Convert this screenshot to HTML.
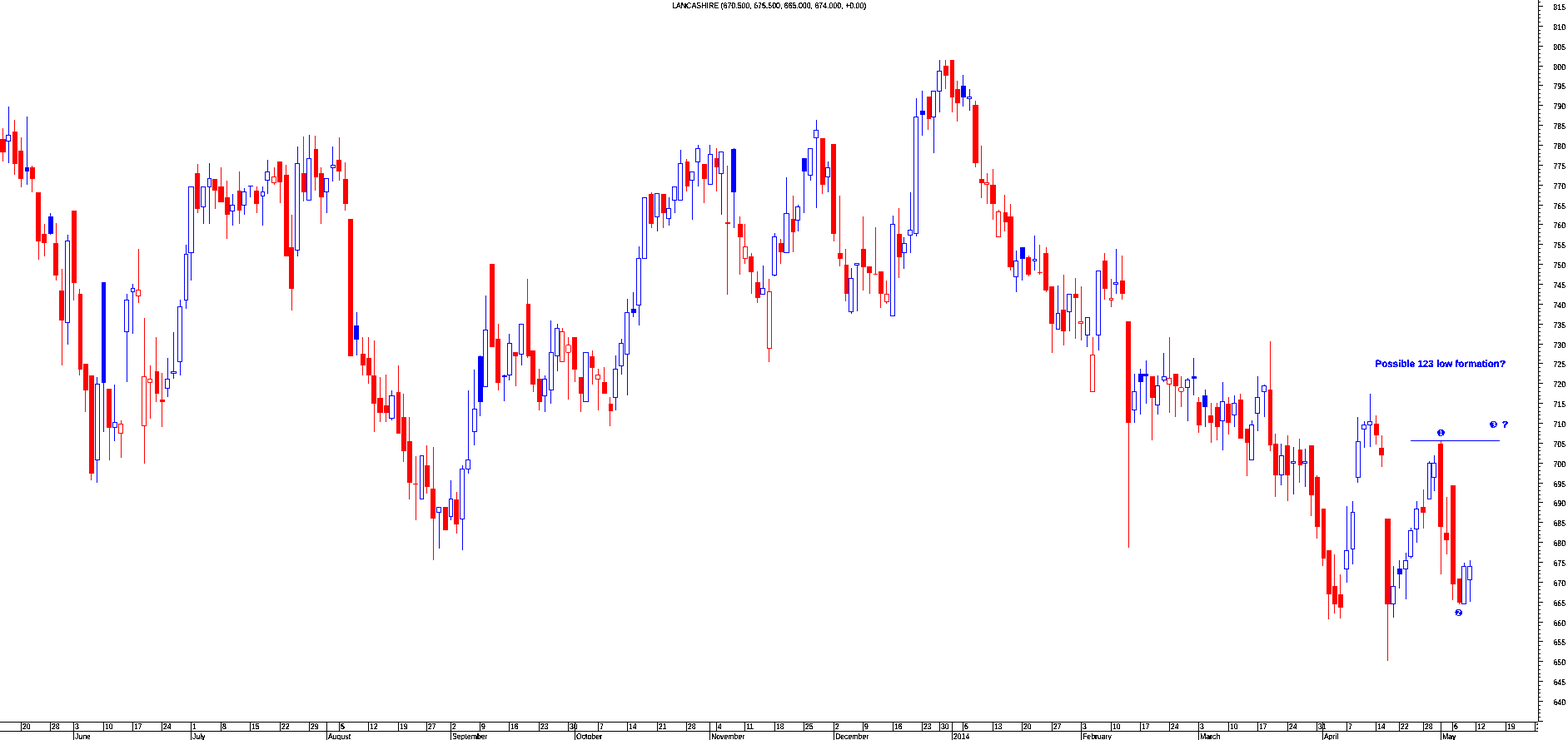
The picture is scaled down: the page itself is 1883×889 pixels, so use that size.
<!DOCTYPE html>
<html><head><meta charset="utf-8"><title>LANCASHIRE</title>
<style>
html,body{margin:0;padding:0;background:#fff;overflow:hidden}
svg{display:block;font-family:"Liberation Sans",sans-serif}
</style></head><body>
<svg width="1883" height="889" viewBox="0 0 1883 889" shape-rendering="crispEdges" text-rendering="geometricPrecision">
<rect x="0" y="0" width="1883" height="889" fill="#ffffff"/>
<defs><filter id="crisp" x="-5%" y="-20%" width="110%" height="140%" color-interpolation-filters="sRGB"><feComponentTransfer><feFuncA type="discrete" tableValues="0 1 1"/></feComponentTransfer></filter><filter id="crispb" x="-5%" y="-20%" width="110%" height="140%" color-interpolation-filters="sRGB"><feComponentTransfer><feFuncA type="discrete" tableValues="0 1 1 1"/></feComponentTransfer></filter><filter id="crisp2" x="-5%" y="-20%" width="110%" height="140%" color-interpolation-filters="sRGB"><feComponentTransfer><feFuncA type="discrete" tableValues="0 0 1 1"/></feComponentTransfer></filter></defs>
<g id="candles"><g fill="#ff0000"><rect x="3" y="154" width="1" height="13"/><rect x="0" y="167" width="7" height="16"/><rect x="3" y="183" width="1" height="11"/></g>
<g fill="#0000ff"><rect x="10" y="128" width="1" height="34"/><rect x="7" y="162" width="6" height="1"/><rect x="7" y="169" width="6" height="1"/><rect x="7" y="162" width="1" height="8"/><rect x="12" y="162" width="1" height="8"/><rect x="10" y="170" width="1" height="26"/></g>
<g fill="#ff0000"><rect x="17" y="144" width="1" height="14"/><rect x="15" y="158" width="6" height="39"/><rect x="17" y="197" width="1" height="13"/></g>
<g fill="#ff0000"><rect x="25" y="165" width="1" height="16"/><rect x="22" y="181" width="6" height="34"/><rect x="25" y="215" width="1" height="10"/></g>
<g fill="#0000ff"><rect x="32" y="140" width="1" height="61"/><rect x="30" y="201" width="5" height="5"/><rect x="32" y="206" width="1" height="16"/></g>
<g fill="#ff0000"><rect x="38" y="199" width="1" height="2"/><rect x="36" y="201" width="6" height="14"/><rect x="38" y="215" width="1" height="16"/></g>
<g fill="#ff0000"><rect x="43" y="231" width="6" height="59"/><rect x="46" y="290" width="1" height="22"/></g>
<g fill="#ff0000"><rect x="53" y="269" width="1" height="12"/><rect x="50" y="281" width="6" height="11"/><rect x="53" y="292" width="1" height="16"/></g>
<g fill="#0000ff"><rect x="60" y="256" width="1" height="4"/><rect x="58" y="260" width="6" height="21"/><rect x="60" y="281" width="1" height="1"/></g>
<g fill="#ff0000"><rect x="67" y="268" width="1" height="24"/><rect x="64" y="292" width="6" height="39"/><rect x="67" y="331" width="1" height="6"/></g>
<g fill="#ff0000"><rect x="74" y="323" width="1" height="26"/><rect x="71" y="349" width="6" height="36"/><rect x="74" y="385" width="1" height="54"/></g>
<g fill="#0000ff"><rect x="81" y="282" width="1" height="7"/><rect x="78" y="289" width="6" height="1"/><rect x="78" y="387" width="6" height="1"/><rect x="78" y="289" width="1" height="99"/><rect x="83" y="289" width="1" height="99"/><rect x="81" y="388" width="1" height="26"/></g>
<g fill="#ff0000"><rect x="86" y="253" width="6" height="87"/><rect x="88" y="340" width="1" height="21"/></g>
<g fill="#ff0000"><rect x="95" y="347" width="1" height="6"/><rect x="94" y="353" width="5" height="91"/><rect x="95" y="444" width="1" height="7"/></g>
<g fill="#ff0000"><rect x="100" y="437" width="6" height="32"/><rect x="102" y="469" width="1" height="26"/></g>
<g fill="#ff0000"><rect x="107" y="451" width="6" height="118"/><rect x="109" y="569" width="1" height="8"/></g>
<g fill="#0000ff"><rect x="116" y="453" width="1" height="8"/><rect x="114" y="461" width="6" height="1"/><rect x="114" y="552" width="6" height="1"/><rect x="114" y="461" width="1" height="92"/><rect x="119" y="461" width="1" height="92"/><rect x="116" y="553" width="1" height="27"/></g>
<g fill="#0000ff"><rect x="122" y="339" width="5" height="121"/><rect x="124" y="460" width="1" height="59"/></g>
<g fill="#ff0000"><rect x="128" y="467" width="6" height="47"/><rect x="131" y="514" width="1" height="39"/></g>
<g fill="#0000ff"><rect x="137" y="462" width="1" height="45"/><rect x="135" y="507" width="6" height="1"/><rect x="135" y="513" width="6" height="1"/><rect x="135" y="507" width="1" height="7"/><rect x="140" y="507" width="1" height="7"/><rect x="137" y="514" width="1" height="16"/></g>
<g fill="#ff0000"><rect x="145" y="505" width="1" height="4"/><rect x="142" y="509" width="6" height="1"/><rect x="142" y="520" width="6" height="1"/><rect x="142" y="509" width="1" height="12"/><rect x="147" y="509" width="1" height="12"/><rect x="145" y="521" width="1" height="29"/></g>
<g fill="#0000ff"><rect x="152" y="353" width="1" height="7"/><rect x="149" y="360" width="6" height="1"/><rect x="149" y="398" width="6" height="1"/><rect x="149" y="360" width="1" height="39"/><rect x="154" y="360" width="1" height="39"/><rect x="152" y="399" width="1" height="60"/></g>
<g fill="#0000ff"><rect x="159" y="341" width="1" height="5"/><rect x="157" y="346" width="5" height="1"/><rect x="157" y="350" width="5" height="1"/><rect x="157" y="346" width="1" height="5"/><rect x="161" y="346" width="1" height="5"/><rect x="159" y="351" width="1" height="50"/></g>
<g fill="#ff0000"><rect x="166" y="299" width="1" height="49"/><rect x="163" y="348" width="6" height="1"/><rect x="163" y="355" width="6" height="1"/><rect x="163" y="348" width="1" height="8"/><rect x="168" y="348" width="1" height="8"/><rect x="166" y="356" width="1" height="8"/></g>
<g fill="#ff0000"><rect x="173" y="382" width="1" height="70"/><rect x="170" y="452" width="6" height="1"/><rect x="170" y="511" width="6" height="1"/><rect x="170" y="452" width="1" height="60"/><rect x="175" y="452" width="1" height="60"/><rect x="173" y="512" width="1" height="45"/></g>
<g fill="#ff0000"><rect x="180" y="439" width="1" height="16"/><rect x="177" y="455" width="6" height="1"/><rect x="177" y="459" width="6" height="1"/><rect x="177" y="455" width="1" height="5"/><rect x="182" y="455" width="1" height="5"/><rect x="180" y="460" width="1" height="43"/></g>
<g fill="#ff0000"><rect x="187" y="405" width="1" height="41"/><rect x="186" y="446" width="5" height="27"/><rect x="187" y="473" width="1" height="10"/></g>
<g fill="#ff0000"><rect x="194" y="448" width="1" height="32"/><rect x="192" y="480" width="6" height="3"/><rect x="194" y="483" width="1" height="30"/></g>
<g fill="#0000ff"><rect x="201" y="430" width="1" height="25"/><rect x="198" y="455" width="6" height="1"/><rect x="198" y="466" width="6" height="1"/><rect x="198" y="455" width="1" height="12"/><rect x="203" y="455" width="1" height="12"/><rect x="201" y="467" width="1" height="10"/></g>
<g fill="#0000ff"><rect x="208" y="399" width="1" height="47"/><rect x="205" y="446" width="7" height="1"/><rect x="205" y="448" width="7" height="1"/><rect x="205" y="446" width="1" height="3"/><rect x="211" y="446" width="1" height="3"/><rect x="208" y="449" width="1" height="6"/></g>
<g fill="#0000ff"><rect x="216" y="360" width="1" height="8"/><rect x="213" y="368" width="6" height="1"/><rect x="213" y="434" width="6" height="1"/><rect x="213" y="368" width="1" height="67"/><rect x="218" y="368" width="1" height="67"/><rect x="216" y="435" width="1" height="16"/></g>
<g fill="#0000ff"><rect x="223" y="294" width="1" height="11"/><rect x="221" y="305" width="5" height="1"/><rect x="221" y="360" width="5" height="1"/><rect x="221" y="305" width="1" height="56"/><rect x="225" y="305" width="1" height="56"/><rect x="223" y="361" width="1" height="10"/></g>
<g fill="#0000ff"><rect x="226" y="224" width="7" height="1"/><rect x="226" y="303" width="7" height="1"/><rect x="226" y="224" width="1" height="80"/><rect x="232" y="224" width="1" height="80"/><rect x="229" y="304" width="1" height="33"/></g>
<g fill="#ff0000"><rect x="237" y="197" width="1" height="11"/><rect x="234" y="208" width="6" height="43"/><rect x="237" y="251" width="1" height="5"/></g>
<g fill="#0000ff"><rect x="241" y="224" width="6" height="1"/><rect x="241" y="248" width="6" height="1"/><rect x="241" y="224" width="1" height="25"/><rect x="246" y="224" width="1" height="25"/><rect x="244" y="249" width="1" height="20"/></g>
<g fill="#0000ff"><rect x="251" y="196" width="1" height="18"/><rect x="249" y="214" width="5" height="1"/><rect x="249" y="224" width="5" height="1"/><rect x="249" y="214" width="1" height="11"/><rect x="253" y="214" width="1" height="11"/><rect x="251" y="225" width="1" height="44"/></g>
<g fill="#ff0000"><rect x="255" y="215" width="6" height="14"/><rect x="258" y="229" width="1" height="22"/></g>
<g fill="#ff0000"><rect x="265" y="201" width="1" height="23"/><rect x="262" y="224" width="7" height="19"/></g>
<g fill="#ff0000"><rect x="272" y="217" width="1" height="20"/><rect x="270" y="237" width="6" height="21"/><rect x="272" y="258" width="1" height="29"/></g>
<g fill="#0000ff"><rect x="279" y="233" width="1" height="13"/><rect x="276" y="246" width="6" height="1"/><rect x="276" y="253" width="6" height="1"/><rect x="276" y="246" width="1" height="8"/><rect x="281" y="246" width="1" height="8"/><rect x="279" y="254" width="1" height="17"/></g>
<g fill="#ff0000"><rect x="287" y="206" width="1" height="23"/><rect x="285" y="229" width="5" height="24"/><rect x="287" y="253" width="1" height="16"/></g>
<g fill="#0000ff"><rect x="293" y="226" width="1" height="4"/><rect x="290" y="230" width="6" height="1"/><rect x="290" y="246" width="6" height="1"/><rect x="290" y="230" width="1" height="17"/><rect x="295" y="230" width="1" height="17"/><rect x="293" y="247" width="1" height="11"/></g>
<g fill="#0000ff"><rect x="300" y="223" width="1" height="14"/><rect x="298" y="223" width="6" height="1"/></g>
<g fill="#ff0000"><rect x="308" y="224" width="1" height="5"/><rect x="305" y="229" width="6" height="16"/><rect x="308" y="245" width="1" height="11"/></g>
<g fill="#0000ff"><rect x="315" y="224" width="1" height="6"/><rect x="313" y="230" width="5" height="1"/><rect x="313" y="235" width="5" height="1"/><rect x="313" y="230" width="1" height="6"/><rect x="317" y="230" width="1" height="6"/><rect x="315" y="236" width="1" height="35"/></g>
<g fill="#0000ff"><rect x="321" y="192" width="1" height="14"/><rect x="318" y="206" width="6" height="1"/><rect x="318" y="216" width="6" height="1"/><rect x="318" y="206" width="1" height="11"/><rect x="323" y="206" width="1" height="11"/><rect x="321" y="217" width="1" height="16"/></g>
<g fill="#ff0000"><rect x="329" y="201" width="1" height="11"/><rect x="326" y="212" width="6" height="1"/><rect x="326" y="219" width="6" height="1"/><rect x="326" y="212" width="1" height="8"/><rect x="331" y="212" width="1" height="8"/><rect x="329" y="220" width="1" height="2"/></g>
<g fill="#ff0000"><rect x="333" y="194" width="6" height="25"/><rect x="336" y="219" width="1" height="25"/></g>
<g fill="#ff0000"><rect x="343" y="198" width="1" height="12"/><rect x="341" y="210" width="6" height="98"/></g>
<g fill="#ff0000"><rect x="350" y="258" width="1" height="39"/><rect x="347" y="297" width="6" height="50"/><rect x="350" y="347" width="1" height="26"/></g>
<g fill="#0000ff"><rect x="357" y="176" width="1" height="20"/><rect x="354" y="196" width="6" height="1"/><rect x="354" y="300" width="6" height="1"/><rect x="354" y="196" width="1" height="105"/><rect x="359" y="196" width="1" height="105"/><rect x="357" y="301" width="1" height="7"/></g>
<g fill="#ff0000"><rect x="364" y="164" width="1" height="44"/><rect x="362" y="208" width="6" height="23"/><rect x="364" y="231" width="1" height="11"/></g>
<g fill="#0000ff"><rect x="371" y="162" width="1" height="28"/><rect x="368" y="190" width="6" height="1"/><rect x="368" y="240" width="6" height="1"/><rect x="368" y="190" width="1" height="51"/><rect x="373" y="190" width="1" height="51"/></g>
<g fill="#ff0000"><rect x="378" y="163" width="1" height="16"/><rect x="377" y="179" width="5" height="34"/><rect x="378" y="213" width="1" height="16"/></g>
<g fill="#ff0000"><rect x="385" y="201" width="1" height="7"/><rect x="383" y="208" width="6" height="29"/><rect x="385" y="237" width="1" height="32"/></g>
<g fill="#0000ff"><rect x="389" y="214" width="6" height="1"/><rect x="389" y="230" width="6" height="1"/><rect x="389" y="214" width="1" height="17"/><rect x="394" y="214" width="1" height="17"/><rect x="392" y="231" width="1" height="25"/></g>
<g fill="#0000ff"><rect x="399" y="176" width="1" height="22"/><rect x="397" y="198" width="6" height="1"/><rect x="397" y="201" width="6" height="1"/><rect x="397" y="198" width="1" height="4"/><rect x="402" y="198" width="1" height="4"/><rect x="399" y="202" width="1" height="16"/></g>
<g fill="#ff0000"><rect x="407" y="165" width="1" height="27"/><rect x="404" y="192" width="6" height="14"/><rect x="407" y="206" width="1" height="11"/></g>
<g fill="#ff0000"><rect x="414" y="195" width="1" height="20"/><rect x="412" y="215" width="6" height="30"/><rect x="414" y="245" width="1" height="8"/></g>
<g fill="#ff0000"><rect x="418" y="263" width="6" height="165"/></g>
<g fill="#0000ff"><rect x="428" y="375" width="1" height="16"/><rect x="425" y="391" width="6" height="17"/><rect x="428" y="408" width="1" height="19"/></g>
<g fill="#ff0000"><rect x="435" y="405" width="1" height="20"/><rect x="433" y="425" width="6" height="14"/><rect x="435" y="439" width="1" height="12"/></g>
<g fill="#ff0000"><rect x="442" y="405" width="1" height="25"/><rect x="440" y="430" width="6" height="21"/><rect x="442" y="451" width="1" height="10"/></g>
<g fill="#ff0000"><rect x="449" y="409" width="1" height="42"/><rect x="446" y="451" width="6" height="34"/><rect x="449" y="485" width="1" height="34"/></g>
<g fill="#ff0000"><rect x="456" y="453" width="1" height="25"/><rect x="453" y="478" width="7" height="18"/><rect x="456" y="496" width="1" height="11"/></g>
<g fill="#ff0000"><rect x="463" y="450" width="1" height="37"/><rect x="461" y="487" width="6" height="9"/><rect x="463" y="496" width="1" height="11"/></g>
<g fill="#0000ff"><rect x="470" y="469" width="1" height="6"/><rect x="467" y="475" width="7" height="1"/><rect x="467" y="502" width="7" height="1"/><rect x="467" y="475" width="1" height="28"/><rect x="473" y="475" width="1" height="28"/><rect x="470" y="503" width="1" height="2"/></g>
<g fill="#ff0000"><rect x="478" y="439" width="1" height="32"/><rect x="476" y="471" width="5" height="50"/></g>
<g fill="#ff0000"><rect x="484" y="473" width="1" height="28"/><rect x="482" y="501" width="6" height="41"/><rect x="484" y="542" width="1" height="13"/></g>
<g fill="#ff0000"><rect x="491" y="501" width="1" height="29"/><rect x="489" y="530" width="6" height="50"/><rect x="491" y="580" width="1" height="20"/></g>
<g fill="#ff0000"><rect x="499" y="548" width="1" height="77"/><rect x="496" y="581" width="6" height="1"/></g>
<g fill="#0000ff"><rect x="504" y="547" width="5" height="1"/><rect x="504" y="599" width="5" height="1"/><rect x="504" y="547" width="1" height="53"/><rect x="508" y="547" width="1" height="53"/></g>
<g fill="#ff0000"><rect x="512" y="535" width="1" height="24"/><rect x="510" y="559" width="6" height="26"/><rect x="512" y="585" width="1" height="8"/></g>
<g fill="#ff0000"><rect x="520" y="537" width="1" height="50"/><rect x="517" y="587" width="6" height="36"/><rect x="520" y="623" width="1" height="50"/></g>
<g fill="#0000ff"><rect x="524" y="609" width="6" height="1"/><rect x="524" y="615" width="6" height="1"/><rect x="524" y="609" width="1" height="7"/><rect x="529" y="609" width="1" height="7"/><rect x="527" y="616" width="1" height="43"/></g>
<g fill="#ff0000"><rect x="532" y="609" width="6" height="28"/></g>
<g fill="#0000ff"><rect x="541" y="577" width="1" height="22"/><rect x="539" y="599" width="5" height="1"/><rect x="539" y="620" width="5" height="1"/><rect x="539" y="599" width="1" height="22"/><rect x="543" y="599" width="1" height="22"/><rect x="541" y="621" width="1" height="4"/></g>
<g fill="#ff0000"><rect x="548" y="591" width="1" height="9"/><rect x="545" y="600" width="6" height="30"/><rect x="548" y="630" width="1" height="11"/></g>
<g fill="#0000ff"><rect x="555" y="559" width="1" height="4"/><rect x="552" y="563" width="6" height="1"/><rect x="552" y="623" width="6" height="1"/><rect x="552" y="563" width="1" height="61"/><rect x="557" y="563" width="1" height="61"/><rect x="555" y="624" width="1" height="37"/></g>
<g fill="#0000ff"><rect x="562" y="469" width="1" height="83"/><rect x="559" y="552" width="6" height="1"/><rect x="559" y="563" width="6" height="1"/><rect x="559" y="552" width="1" height="12"/><rect x="564" y="552" width="1" height="12"/><rect x="562" y="564" width="1" height="5"/></g>
<g fill="#0000ff"><rect x="569" y="444" width="1" height="47"/><rect x="567" y="491" width="6" height="1"/><rect x="567" y="518" width="6" height="1"/><rect x="567" y="491" width="1" height="28"/><rect x="572" y="491" width="1" height="28"/><rect x="569" y="519" width="1" height="16"/></g>
<g fill="#0000ff"><rect x="576" y="427" width="1" height="1"/><rect x="574" y="428" width="6" height="55"/><rect x="576" y="483" width="1" height="17"/></g>
<g fill="#0000ff"><rect x="583" y="355" width="1" height="41"/><rect x="580" y="396" width="6" height="1"/><rect x="580" y="464" width="6" height="1"/><rect x="580" y="396" width="1" height="69"/><rect x="585" y="396" width="1" height="69"/></g>
<g fill="#ff0000"><rect x="588" y="317" width="6" height="100"/></g>
<g fill="#ff0000"><rect x="598" y="389" width="1" height="18"/><rect x="595" y="407" width="6" height="53"/><rect x="598" y="460" width="1" height="9"/></g>
<g fill="#0000ff"><rect x="605" y="450" width="1" height="1"/><rect x="603" y="451" width="6" height="2"/><rect x="605" y="453" width="1" height="29"/></g>
<g fill="#0000ff"><rect x="611" y="401" width="1" height="11"/><rect x="609" y="412" width="6" height="1"/><rect x="609" y="450" width="6" height="1"/><rect x="609" y="412" width="1" height="39"/><rect x="614" y="412" width="1" height="39"/><rect x="611" y="451" width="1" height="6"/></g>
<g fill="#ff0000"><rect x="616" y="423" width="6" height="5"/><rect x="619" y="428" width="1" height="36"/></g>
<g fill="#0000ff"><rect x="623" y="389" width="6" height="1"/><rect x="623" y="425" width="6" height="1"/><rect x="623" y="389" width="1" height="37"/><rect x="628" y="389" width="1" height="37"/><rect x="626" y="426" width="1" height="13"/></g>
<g fill="#ff0000"><rect x="633" y="335" width="1" height="30"/><rect x="632" y="365" width="5" height="63"/><rect x="633" y="428" width="1" height="2"/></g>
<g fill="#ff0000"><rect x="637" y="421" width="6" height="41"/><rect x="640" y="462" width="1" height="9"/></g>
<g fill="#ff0000"><rect x="647" y="443" width="1" height="12"/><rect x="645" y="455" width="6" height="28"/><rect x="647" y="483" width="1" height="10"/></g>
<g fill="#0000ff"><rect x="654" y="451" width="1" height="4"/><rect x="651" y="455" width="6" height="1"/><rect x="651" y="475" width="6" height="1"/><rect x="651" y="455" width="1" height="21"/><rect x="656" y="455" width="1" height="21"/><rect x="654" y="476" width="1" height="19"/></g>
<g fill="#0000ff"><rect x="661" y="385" width="1" height="38"/><rect x="659" y="423" width="6" height="1"/><rect x="659" y="468" width="6" height="1"/><rect x="659" y="423" width="1" height="46"/><rect x="664" y="423" width="1" height="46"/><rect x="661" y="469" width="1" height="16"/></g>
<g fill="#0000ff"><rect x="669" y="389" width="1" height="5"/><rect x="666" y="394" width="6" height="1"/><rect x="666" y="427" width="6" height="1"/><rect x="666" y="394" width="1" height="34"/><rect x="671" y="394" width="1" height="34"/><rect x="669" y="428" width="1" height="18"/></g>
<g fill="#ff0000"><rect x="675" y="394" width="1" height="4"/><rect x="672" y="398" width="6" height="1"/><rect x="672" y="434" width="6" height="1"/><rect x="672" y="398" width="1" height="37"/><rect x="677" y="398" width="1" height="37"/></g>
<g fill="#ff0000"><rect x="682" y="405" width="1" height="9"/><rect x="680" y="414" width="5" height="1"/><rect x="680" y="423" width="5" height="1"/><rect x="679" y="415" width="1" height="8"/><rect x="685" y="415" width="1" height="8"/><rect x="682" y="424" width="1" height="56"/></g>
<g fill="#ff0000"><rect x="687" y="405" width="6" height="39"/><rect x="690" y="444" width="1" height="15"/></g>
<g fill="#ff0000"><rect x="695" y="453" width="5" height="20"/><rect x="697" y="473" width="1" height="22"/></g>
<g fill="#0000ff"><rect x="700" y="423" width="7" height="1"/><rect x="700" y="482" width="7" height="1"/><rect x="700" y="423" width="1" height="60"/><rect x="706" y="423" width="1" height="60"/></g>
<g fill="#ff0000"><rect x="711" y="421" width="1" height="7"/><rect x="708" y="428" width="6" height="14"/><rect x="711" y="442" width="1" height="20"/></g>
<g fill="#ff0000"><rect x="718" y="443" width="1" height="7"/><rect x="715" y="450" width="6" height="1"/><rect x="715" y="455" width="6" height="1"/><rect x="715" y="450" width="1" height="6"/><rect x="720" y="450" width="1" height="6"/><rect x="718" y="456" width="1" height="37"/></g>
<g fill="#ff0000"><rect x="725" y="441" width="1" height="18"/><rect x="723" y="459" width="6" height="14"/></g>
<g fill="#ff0000"><rect x="732" y="477" width="1" height="8"/><rect x="731" y="485" width="5" height="9"/><rect x="732" y="494" width="1" height="18"/></g>
<g fill="#0000ff"><rect x="739" y="427" width="1" height="16"/><rect x="736" y="443" width="6" height="1"/><rect x="736" y="477" width="6" height="1"/><rect x="736" y="443" width="1" height="35"/><rect x="741" y="443" width="1" height="35"/><rect x="739" y="478" width="1" height="15"/></g>
<g fill="#0000ff"><rect x="746" y="407" width="1" height="5"/><rect x="743" y="412" width="6" height="1"/><rect x="743" y="439" width="6" height="1"/><rect x="743" y="412" width="1" height="28"/><rect x="748" y="412" width="1" height="28"/><rect x="746" y="440" width="1" height="10"/></g>
<g fill="#0000ff"><rect x="753" y="359" width="1" height="16"/><rect x="750" y="375" width="6" height="1"/><rect x="750" y="425" width="6" height="1"/><rect x="750" y="375" width="1" height="51"/><rect x="755" y="375" width="1" height="51"/><rect x="753" y="426" width="1" height="49"/></g>
<g fill="#0000ff"><rect x="760" y="351" width="1" height="20"/><rect x="758" y="371" width="6" height="5"/><rect x="760" y="376" width="1" height="5"/></g>
<g fill="#0000ff"><rect x="767" y="296" width="1" height="14"/><rect x="764" y="310" width="6" height="1"/><rect x="764" y="366" width="6" height="1"/><rect x="764" y="310" width="1" height="57"/><rect x="769" y="310" width="1" height="57"/><rect x="767" y="367" width="1" height="24"/></g>
<g fill="#0000ff"><rect x="771" y="237" width="6" height="1"/><rect x="771" y="310" width="6" height="1"/><rect x="771" y="237" width="1" height="74"/><rect x="776" y="237" width="1" height="74"/></g>
<g fill="#ff0000"><rect x="782" y="231" width="1" height="2"/><rect x="779" y="233" width="6" height="36"/><rect x="782" y="269" width="1" height="5"/></g>
<g fill="#0000ff"><rect x="786" y="232" width="6" height="1"/><rect x="786" y="260" width="6" height="1"/><rect x="786" y="232" width="1" height="29"/><rect x="791" y="232" width="1" height="29"/><rect x="789" y="261" width="1" height="17"/></g>
<g fill="#ff0000"><rect x="794" y="233" width="6" height="23"/><rect x="796" y="256" width="1" height="18"/></g>
<g fill="#0000ff"><rect x="803" y="237" width="1" height="13"/><rect x="800" y="250" width="6" height="1"/><rect x="800" y="262" width="6" height="1"/><rect x="800" y="250" width="1" height="13"/><rect x="805" y="250" width="1" height="13"/><rect x="803" y="263" width="1" height="8"/></g>
<g fill="#0000ff"><rect x="807" y="224" width="6" height="1"/><rect x="807" y="240" width="6" height="1"/><rect x="807" y="224" width="1" height="17"/><rect x="812" y="224" width="1" height="17"/><rect x="810" y="241" width="1" height="15"/></g>
<g fill="#0000ff"><rect x="817" y="180" width="1" height="16"/><rect x="814" y="196" width="6" height="1"/><rect x="814" y="240" width="6" height="1"/><rect x="814" y="196" width="1" height="45"/><rect x="819" y="196" width="1" height="45"/></g>
<g fill="#ff0000"><rect x="824" y="191" width="1" height="3"/><rect x="823" y="194" width="5" height="30"/><rect x="824" y="224" width="1" height="6"/></g>
<g fill="#0000ff"><rect x="828" y="206" width="6" height="1"/><rect x="828" y="216" width="6" height="1"/><rect x="828" y="206" width="1" height="11"/><rect x="833" y="206" width="1" height="11"/><rect x="831" y="217" width="1" height="47"/></g>
<g fill="#0000ff"><rect x="838" y="174" width="1" height="4"/><rect x="835" y="178" width="6" height="1"/><rect x="835" y="194" width="6" height="1"/><rect x="835" y="178" width="1" height="17"/><rect x="840" y="178" width="1" height="17"/><rect x="838" y="195" width="1" height="29"/></g>
<g fill="#ff0000"><rect x="843" y="197" width="6" height="18"/><rect x="845" y="215" width="1" height="29"/></g>
<g fill="#0000ff"><rect x="852" y="174" width="1" height="11"/><rect x="850" y="185" width="6" height="1"/><rect x="850" y="221" width="6" height="1"/><rect x="850" y="185" width="1" height="37"/><rect x="855" y="185" width="1" height="37"/></g>
<g fill="#ff0000"><rect x="860" y="178" width="1" height="12"/><rect x="858" y="190" width="5" height="11"/><rect x="860" y="201" width="1" height="29"/></g>
<g fill="#0000ff"><rect x="863" y="182" width="6" height="1"/><rect x="863" y="208" width="6" height="1"/><rect x="863" y="182" width="1" height="27"/><rect x="868" y="182" width="1" height="27"/><rect x="866" y="209" width="1" height="49"/></g>
<g fill="#ff0000"><rect x="873" y="199" width="1" height="68"/><rect x="871" y="267" width="6" height="2"/><rect x="873" y="269" width="1" height="85"/></g>
<g fill="#0000ff"><rect x="881" y="178" width="1" height="1"/><rect x="878" y="179" width="6" height="52"/><rect x="881" y="231" width="1" height="43"/></g>
<g fill="#ff0000"><rect x="888" y="260" width="1" height="9"/><rect x="886" y="269" width="6" height="16"/><rect x="888" y="285" width="1" height="45"/></g>
<g fill="#ff0000"><rect x="894" y="269" width="1" height="27"/><rect x="892" y="296" width="6" height="1"/><rect x="892" y="310" width="6" height="1"/><rect x="892" y="296" width="1" height="15"/><rect x="897" y="296" width="1" height="15"/><rect x="894" y="311" width="1" height="6"/></g>
<g fill="#ff0000"><rect x="902" y="304" width="1" height="4"/><rect x="899" y="308" width="6" height="19"/><rect x="902" y="327" width="1" height="26"/></g>
<g fill="#ff0000"><rect x="909" y="326" width="1" height="13"/><rect x="907" y="339" width="6" height="19"/><rect x="909" y="358" width="1" height="6"/></g>
<g fill="#0000ff"><rect x="916" y="319" width="1" height="27"/><rect x="913" y="346" width="6" height="1"/><rect x="913" y="353" width="6" height="1"/><rect x="913" y="346" width="1" height="8"/><rect x="918" y="346" width="1" height="8"/></g>
<g fill="#ff0000"><rect x="923" y="335" width="1" height="15"/><rect x="921" y="350" width="6" height="1"/><rect x="921" y="418" width="6" height="1"/><rect x="921" y="350" width="1" height="69"/><rect x="926" y="350" width="1" height="69"/><rect x="923" y="419" width="1" height="16"/></g>
<g fill="#0000ff"><rect x="930" y="280" width="1" height="4"/><rect x="927" y="284" width="6" height="1"/><rect x="927" y="330" width="6" height="1"/><rect x="927" y="284" width="1" height="47"/><rect x="932" y="284" width="1" height="47"/><rect x="930" y="331" width="1" height="1"/></g>
<g fill="#ff0000"><rect x="937" y="287" width="1" height="5"/><rect x="935" y="292" width="6" height="11"/><rect x="937" y="303" width="1" height="14"/></g>
<g fill="#0000ff"><rect x="944" y="213" width="1" height="43"/><rect x="941" y="256" width="7" height="1"/><rect x="941" y="303" width="7" height="1"/><rect x="941" y="256" width="1" height="48"/><rect x="947" y="256" width="1" height="48"/></g>
<g fill="#ff0000"><rect x="952" y="235" width="1" height="28"/><rect x="950" y="263" width="5" height="16"/><rect x="952" y="279" width="1" height="24"/></g>
<g fill="#0000ff"><rect x="958" y="246" width="1" height="2"/><rect x="955" y="248" width="6" height="1"/><rect x="955" y="264" width="6" height="1"/><rect x="955" y="248" width="1" height="17"/><rect x="960" y="248" width="1" height="17"/><rect x="958" y="265" width="1" height="13"/></g>
<g fill="#0000ff"><rect x="963" y="190" width="6" height="16"/><rect x="965" y="206" width="1" height="50"/></g>
<g fill="#0000ff"><rect x="970" y="178" width="6" height="1"/><rect x="970" y="210" width="6" height="1"/><rect x="970" y="178" width="1" height="33"/><rect x="975" y="178" width="1" height="33"/><rect x="973" y="211" width="1" height="6"/></g>
<g fill="#0000ff"><rect x="980" y="144" width="1" height="12"/><rect x="977" y="156" width="6" height="1"/><rect x="977" y="165" width="6" height="1"/><rect x="977" y="156" width="1" height="10"/><rect x="982" y="156" width="1" height="10"/><rect x="980" y="166" width="1" height="84"/></g>
<g fill="#ff0000"><rect x="985" y="166" width="6" height="56"/><rect x="987" y="222" width="1" height="11"/></g>
<g fill="#0000ff"><rect x="994" y="194" width="1" height="7"/><rect x="991" y="201" width="6" height="1"/><rect x="991" y="212" width="6" height="1"/><rect x="991" y="201" width="1" height="12"/><rect x="996" y="201" width="1" height="12"/><rect x="994" y="213" width="1" height="18"/></g>
<g fill="#ff0000"><rect x="998" y="173" width="6" height="108"/><rect x="1001" y="281" width="1" height="9"/></g>
<g fill="#ff0000"><rect x="1008" y="235" width="1" height="69"/><rect x="1006" y="304" width="6" height="7"/><rect x="1008" y="311" width="1" height="9"/></g>
<g fill="#ff0000"><rect x="1015" y="299" width="1" height="19"/><rect x="1014" y="318" width="5" height="35"/><rect x="1015" y="353" width="1" height="9"/></g>
<g fill="#0000ff"><rect x="1022" y="322" width="1" height="12"/><rect x="1019" y="334" width="6" height="1"/><rect x="1019" y="374" width="6" height="1"/><rect x="1019" y="334" width="1" height="41"/><rect x="1024" y="334" width="1" height="41"/><rect x="1022" y="375" width="1" height="2"/></g>
<g fill="#0000ff"><rect x="1026" y="316" width="6" height="1"/><rect x="1026" y="318" width="6" height="1"/><rect x="1026" y="316" width="1" height="3"/><rect x="1031" y="316" width="1" height="3"/><rect x="1029" y="319" width="1" height="55"/></g>
<g fill="#ff0000"><rect x="1036" y="260" width="1" height="39"/><rect x="1034" y="299" width="6" height="22"/><rect x="1036" y="321" width="1" height="28"/></g>
<g fill="#ff0000"><rect x="1041" y="320" width="6" height="8"/><rect x="1044" y="328" width="1" height="25"/></g>
<g fill="#ff0000"><rect x="1051" y="273" width="1" height="57"/><rect x="1049" y="329" width="5" height="1"/></g>
<g fill="#ff0000"><rect x="1055" y="326" width="6" height="27"/><rect x="1057" y="353" width="1" height="17"/></g>
<g fill="#ff0000"><rect x="1064" y="337" width="1" height="16"/><rect x="1062" y="353" width="6" height="1"/><rect x="1062" y="362" width="6" height="1"/><rect x="1062" y="353" width="1" height="10"/><rect x="1067" y="353" width="1" height="10"/><rect x="1064" y="363" width="1" height="2"/></g>
<g fill="#0000ff"><rect x="1072" y="259" width="1" height="10"/><rect x="1069" y="269" width="6" height="1"/><rect x="1069" y="379" width="6" height="1"/><rect x="1069" y="269" width="1" height="111"/><rect x="1074" y="269" width="1" height="111"/></g>
<g fill="#ff0000"><rect x="1079" y="250" width="1" height="31"/><rect x="1077" y="281" width="6" height="28"/><rect x="1079" y="309" width="1" height="25"/></g>
<g fill="#0000ff"><rect x="1085" y="285" width="1" height="7"/><rect x="1083" y="292" width="6" height="1"/><rect x="1083" y="303" width="6" height="1"/><rect x="1083" y="292" width="1" height="12"/><rect x="1088" y="292" width="1" height="12"/><rect x="1085" y="304" width="1" height="19"/></g>
<g fill="#0000ff"><rect x="1093" y="231" width="1" height="45"/><rect x="1090" y="276" width="6" height="1"/><rect x="1090" y="282" width="6" height="1"/><rect x="1090" y="276" width="1" height="7"/><rect x="1095" y="276" width="1" height="7"/><rect x="1093" y="283" width="1" height="21"/></g>
<g fill="#0000ff"><rect x="1100" y="118" width="1" height="22"/><rect x="1097" y="140" width="6" height="1"/><rect x="1097" y="280" width="6" height="1"/><rect x="1097" y="140" width="1" height="141"/><rect x="1102" y="140" width="1" height="141"/><rect x="1100" y="281" width="1" height="3"/></g>
<g fill="#0000ff"><rect x="1107" y="109" width="1" height="24"/><rect x="1105" y="133" width="6" height="5"/><rect x="1107" y="138" width="1" height="25"/></g>
<g fill="#ff0000"><rect x="1113" y="116" width="5" height="27"/><rect x="1114" y="143" width="1" height="13"/></g>
<g fill="#0000ff"><rect x="1118" y="109" width="6" height="1"/><rect x="1118" y="140" width="6" height="1"/><rect x="1118" y="109" width="1" height="32"/><rect x="1123" y="109" width="1" height="32"/><rect x="1121" y="141" width="1" height="43"/></g>
<g fill="#0000ff"><rect x="1128" y="72" width="1" height="13"/><rect x="1125" y="85" width="6" height="1"/><rect x="1125" y="109" width="6" height="1"/><rect x="1125" y="85" width="1" height="25"/><rect x="1130" y="85" width="1" height="25"/><rect x="1128" y="110" width="1" height="25"/></g>
<g fill="#ff0000"><rect x="1135" y="72" width="1" height="7"/><rect x="1133" y="79" width="6" height="12"/><rect x="1135" y="91" width="1" height="16"/></g>
<g fill="#ff0000"><rect x="1141" y="72" width="5" height="45"/><rect x="1143" y="117" width="1" height="18"/></g>
<g fill="#ff0000"><rect x="1149" y="97" width="1" height="10"/><rect x="1147" y="107" width="6" height="17"/><rect x="1149" y="124" width="1" height="22"/></g>
<g fill="#0000ff"><rect x="1156" y="90" width="1" height="13"/><rect x="1154" y="103" width="6" height="14"/><rect x="1156" y="117" width="1" height="11"/></g>
<g fill="#0000ff"><rect x="1164" y="107" width="1" height="9"/><rect x="1161" y="116" width="6" height="1"/><rect x="1161" y="118" width="6" height="1"/><rect x="1161" y="116" width="1" height="3"/><rect x="1166" y="116" width="1" height="3"/><rect x="1164" y="119" width="1" height="14"/></g>
<g fill="#ff0000"><rect x="1171" y="121" width="1" height="5"/><rect x="1168" y="126" width="7" height="70"/><rect x="1171" y="196" width="1" height="5"/></g>
<g fill="#ff0000"><rect x="1178" y="175" width="1" height="40"/><rect x="1176" y="215" width="6" height="5"/><rect x="1178" y="220" width="1" height="18"/></g>
<g fill="#ff0000"><rect x="1185" y="208" width="1" height="11"/><rect x="1182" y="219" width="6" height="1"/><rect x="1182" y="221" width="6" height="1"/><rect x="1182" y="219" width="1" height="3"/><rect x="1187" y="219" width="1" height="3"/><rect x="1185" y="222" width="1" height="23"/></g>
<g fill="#ff0000"><rect x="1192" y="203" width="1" height="19"/><rect x="1189" y="222" width="7" height="23"/><rect x="1192" y="245" width="1" height="19"/></g>
<g fill="#ff0000"><rect x="1199" y="252" width="1" height="2"/><rect x="1196" y="254" width="6" height="1"/><rect x="1196" y="284" width="6" height="1"/><rect x="1196" y="254" width="1" height="31"/><rect x="1201" y="254" width="1" height="31"/></g>
<g fill="#ff0000"><rect x="1206" y="234" width="1" height="21"/><rect x="1205" y="255" width="5" height="12"/><rect x="1206" y="267" width="1" height="11"/></g>
<g fill="#ff0000"><rect x="1213" y="245" width="1" height="15"/><rect x="1210" y="260" width="7" height="61"/><rect x="1213" y="321" width="1" height="4"/></g>
<g fill="#0000ff"><rect x="1220" y="301" width="1" height="12"/><rect x="1217" y="313" width="6" height="1"/><rect x="1217" y="332" width="6" height="1"/><rect x="1217" y="313" width="1" height="20"/><rect x="1222" y="313" width="1" height="20"/><rect x="1220" y="333" width="1" height="18"/></g>
<g fill="#0000ff"><rect x="1225" y="297" width="6" height="14"/><rect x="1227" y="311" width="1" height="26"/></g>
<g fill="#ff0000"><rect x="1235" y="307" width="1" height="2"/><rect x="1232" y="309" width="6" height="21"/><rect x="1235" y="330" width="1" height="2"/></g>
<g fill="#0000ff"><rect x="1242" y="283" width="1" height="28"/><rect x="1240" y="311" width="5" height="1"/><rect x="1240" y="313" width="5" height="1"/><rect x="1240" y="311" width="1" height="3"/><rect x="1244" y="311" width="1" height="3"/><rect x="1242" y="314" width="1" height="11"/></g>
<g fill="#ff0000"><rect x="1248" y="294" width="1" height="36"/><rect x="1246" y="327" width="6" height="1"/></g>
<g fill="#ff0000"><rect x="1256" y="297" width="1" height="7"/><rect x="1253" y="304" width="6" height="45"/><rect x="1256" y="349" width="1" height="2"/></g>
<g fill="#ff0000"><rect x="1260" y="344" width="6" height="45"/><rect x="1263" y="389" width="1" height="35"/></g>
<g fill="#0000ff"><rect x="1270" y="343" width="1" height="33"/><rect x="1268" y="376" width="5" height="1"/><rect x="1268" y="395" width="5" height="1"/><rect x="1268" y="376" width="1" height="20"/><rect x="1272" y="376" width="1" height="20"/></g>
<g fill="#ff0000"><rect x="1277" y="330" width="1" height="42"/><rect x="1274" y="372" width="6" height="26"/><rect x="1277" y="398" width="1" height="17"/></g>
<g fill="#0000ff"><rect x="1281" y="353" width="6" height="1"/><rect x="1281" y="374" width="6" height="1"/><rect x="1281" y="353" width="1" height="22"/><rect x="1286" y="353" width="1" height="22"/><rect x="1284" y="375" width="1" height="23"/></g>
<g fill="#ff0000"><rect x="1291" y="334" width="1" height="19"/><rect x="1289" y="353" width="6" height="5"/><rect x="1291" y="358" width="1" height="49"/></g>
<g fill="#ff0000"><rect x="1298" y="344" width="1" height="42"/><rect x="1295" y="386" width="6" height="1"/><rect x="1295" y="388" width="6" height="1"/><rect x="1295" y="386" width="1" height="3"/><rect x="1300" y="386" width="1" height="3"/><rect x="1298" y="389" width="1" height="20"/></g>
<g fill="#0000ff"><rect x="1303" y="381" width="6" height="1"/><rect x="1303" y="402" width="6" height="1"/><rect x="1303" y="381" width="1" height="22"/><rect x="1308" y="381" width="1" height="22"/><rect x="1305" y="403" width="1" height="14"/></g>
<g fill="#ff0000"><rect x="1312" y="405" width="1" height="21"/><rect x="1309" y="426" width="6" height="1"/><rect x="1309" y="470" width="6" height="1"/><rect x="1309" y="426" width="1" height="45"/><rect x="1314" y="426" width="1" height="45"/></g>
<g fill="#0000ff"><rect x="1316" y="325" width="6" height="1"/><rect x="1316" y="402" width="6" height="1"/><rect x="1316" y="325" width="1" height="78"/><rect x="1321" y="325" width="1" height="78"/><rect x="1319" y="403" width="1" height="18"/></g>
<g fill="#ff0000"><rect x="1326" y="304" width="1" height="9"/><rect x="1324" y="313" width="6" height="34"/><rect x="1326" y="347" width="1" height="13"/></g>
<g fill="#ff0000"><rect x="1334" y="335" width="1" height="23"/><rect x="1332" y="358" width="5" height="1"/><rect x="1332" y="360" width="5" height="1"/><rect x="1332" y="358" width="1" height="3"/><rect x="1336" y="358" width="1" height="3"/><rect x="1334" y="361" width="1" height="8"/></g>
<g fill="#0000ff"><rect x="1340" y="299" width="1" height="40"/><rect x="1337" y="339" width="6" height="1"/><rect x="1337" y="341" width="6" height="1"/><rect x="1337" y="339" width="1" height="3"/><rect x="1342" y="339" width="1" height="3"/><rect x="1340" y="342" width="1" height="11"/></g>
<g fill="#ff0000"><rect x="1347" y="307" width="1" height="30"/><rect x="1345" y="337" width="6" height="16"/><rect x="1347" y="353" width="1" height="7"/></g>
<g fill="#ff0000"><rect x="1352" y="386" width="6" height="122"/><rect x="1355" y="508" width="1" height="150"/></g>
<g fill="#0000ff"><rect x="1362" y="449" width="1" height="21"/><rect x="1359" y="470" width="6" height="1"/><rect x="1359" y="492" width="6" height="1"/><rect x="1359" y="470" width="1" height="23"/><rect x="1364" y="470" width="1" height="23"/><rect x="1362" y="493" width="1" height="15"/></g>
<g fill="#0000ff"><rect x="1369" y="443" width="1" height="6"/><rect x="1367" y="449" width="6" height="10"/><rect x="1369" y="459" width="1" height="39"/></g>
<g fill="#0000ff"><rect x="1376" y="433" width="1" height="16"/><rect x="1373" y="449" width="6" height="3"/><rect x="1376" y="452" width="1" height="33"/></g>
<g fill="#ff0000"><rect x="1381" y="452" width="6" height="26"/><rect x="1383" y="478" width="1" height="51"/></g>
<g fill="#0000ff"><rect x="1390" y="451" width="1" height="12"/><rect x="1387" y="463" width="6" height="1"/><rect x="1387" y="486" width="6" height="1"/><rect x="1387" y="463" width="1" height="24"/><rect x="1392" y="463" width="1" height="24"/><rect x="1390" y="487" width="1" height="11"/></g>
<g fill="#0000ff"><rect x="1397" y="424" width="1" height="28"/><rect x="1395" y="452" width="6" height="1"/><rect x="1395" y="456" width="6" height="1"/><rect x="1395" y="452" width="1" height="5"/><rect x="1400" y="452" width="1" height="5"/><rect x="1397" y="457" width="1" height="2"/></g>
<g fill="#ff0000"><rect x="1404" y="405" width="1" height="49"/><rect x="1401" y="454" width="6" height="1"/><rect x="1401" y="461" width="6" height="1"/><rect x="1401" y="454" width="1" height="8"/><rect x="1406" y="454" width="1" height="8"/><rect x="1404" y="462" width="1" height="34"/></g>
<g fill="#ff0000"><rect x="1409" y="449" width="6" height="15"/><rect x="1411" y="464" width="1" height="37"/></g>
<g fill="#ff0000"><rect x="1418" y="452" width="1" height="13"/><rect x="1416" y="465" width="5" height="1"/><rect x="1416" y="470" width="5" height="1"/><rect x="1415" y="466" width="1" height="4"/><rect x="1421" y="466" width="1" height="4"/><rect x="1418" y="471" width="1" height="18"/></g>
<g fill="#0000ff"><rect x="1426" y="454" width="1" height="2"/><rect x="1423" y="456" width="6" height="1"/><rect x="1423" y="465" width="6" height="1"/><rect x="1423" y="456" width="1" height="10"/><rect x="1428" y="456" width="1" height="10"/><rect x="1426" y="466" width="1" height="40"/></g>
<g fill="#0000ff"><rect x="1433" y="430" width="1" height="22"/><rect x="1431" y="452" width="6" height="3"/><rect x="1433" y="455" width="1" height="20"/></g>
<g fill="#ff0000"><rect x="1439" y="477" width="1" height="6"/><rect x="1437" y="483" width="6" height="28"/><rect x="1439" y="511" width="1" height="9"/></g>
<g fill="#0000ff"><rect x="1447" y="468" width="1" height="7"/><rect x="1444" y="475" width="6" height="14"/><rect x="1447" y="489" width="1" height="24"/></g>
<g fill="#ff0000"><rect x="1454" y="484" width="1" height="15"/><rect x="1451" y="499" width="6" height="9"/><rect x="1454" y="508" width="1" height="24"/></g>
<g fill="#ff0000"><rect x="1461" y="484" width="1" height="5"/><rect x="1459" y="489" width="6" height="24"/><rect x="1461" y="513" width="1" height="16"/></g>
<g fill="#0000ff"><rect x="1468" y="459" width="1" height="23"/><rect x="1465" y="482" width="6" height="1"/><rect x="1465" y="505" width="6" height="1"/><rect x="1465" y="482" width="1" height="24"/><rect x="1470" y="482" width="1" height="24"/><rect x="1468" y="506" width="1" height="35"/></g>
<g fill="#ff0000"><rect x="1475" y="477" width="1" height="8"/><rect x="1472" y="485" width="6" height="23"/><rect x="1475" y="508" width="1" height="14"/></g>
<g fill="#0000ff"><rect x="1482" y="475" width="1" height="9"/><rect x="1479" y="484" width="6" height="1"/><rect x="1479" y="498" width="6" height="1"/><rect x="1479" y="484" width="1" height="15"/><rect x="1484" y="484" width="1" height="15"/><rect x="1482" y="499" width="1" height="14"/></g>
<g fill="#ff0000"><rect x="1489" y="473" width="1" height="7"/><rect x="1487" y="480" width="6" height="47"/></g>
<g fill="#ff0000"><rect x="1495" y="515" width="5" height="17"/><rect x="1497" y="532" width="1" height="40"/></g>
<g fill="#0000ff"><rect x="1503" y="505" width="1" height="5"/><rect x="1500" y="510" width="6" height="1"/><rect x="1500" y="552" width="6" height="1"/><rect x="1500" y="510" width="1" height="43"/><rect x="1505" y="510" width="1" height="43"/></g>
<g fill="#0000ff"><rect x="1510" y="452" width="1" height="25"/><rect x="1507" y="477" width="6" height="1"/><rect x="1507" y="496" width="6" height="1"/><rect x="1507" y="477" width="1" height="20"/><rect x="1512" y="477" width="1" height="20"/><rect x="1510" y="497" width="1" height="21"/></g>
<g fill="#0000ff"><rect x="1518" y="462" width="1" height="1"/><rect x="1515" y="463" width="6" height="1"/><rect x="1515" y="470" width="6" height="1"/><rect x="1515" y="463" width="1" height="8"/><rect x="1520" y="463" width="1" height="8"/><rect x="1518" y="471" width="1" height="30"/></g>
<g fill="#ff0000"><rect x="1525" y="410" width="1" height="58"/><rect x="1523" y="468" width="5" height="67"/><rect x="1525" y="535" width="1" height="7"/></g>
<g fill="#ff0000"><rect x="1531" y="521" width="1" height="12"/><rect x="1529" y="533" width="6" height="38"/><rect x="1531" y="571" width="1" height="26"/></g>
<g fill="#0000ff"><rect x="1538" y="533" width="1" height="14"/><rect x="1536" y="547" width="6" height="1"/><rect x="1536" y="570" width="6" height="1"/><rect x="1536" y="547" width="1" height="24"/><rect x="1541" y="547" width="1" height="24"/><rect x="1538" y="571" width="1" height="12"/></g>
<g fill="#ff0000"><rect x="1546" y="523" width="1" height="12"/><rect x="1543" y="535" width="6" height="36"/><rect x="1546" y="571" width="1" height="31"/></g>
<g fill="#0000ff"><rect x="1553" y="537" width="1" height="17"/><rect x="1550" y="554" width="6" height="1"/><rect x="1550" y="556" width="6" height="1"/><rect x="1550" y="554" width="1" height="3"/><rect x="1555" y="554" width="1" height="3"/><rect x="1553" y="557" width="1" height="37"/></g>
<g fill="#ff0000"><rect x="1560" y="527" width="1" height="13"/><rect x="1559" y="540" width="5" height="19"/><rect x="1560" y="559" width="1" height="21"/></g>
<g fill="#0000ff"><rect x="1567" y="539" width="1" height="15"/><rect x="1564" y="554" width="6" height="1"/><rect x="1564" y="556" width="6" height="1"/><rect x="1564" y="554" width="1" height="3"/><rect x="1569" y="554" width="1" height="3"/><rect x="1567" y="557" width="1" height="28"/></g>
<g fill="#ff0000"><rect x="1572" y="535" width="6" height="60"/><rect x="1574" y="595" width="1" height="25"/></g>
<g fill="#ff0000"><rect x="1581" y="571" width="1" height="2"/><rect x="1579" y="573" width="6" height="60"/><rect x="1581" y="633" width="1" height="14"/></g>
<g fill="#ff0000"><rect x="1587" y="611" width="5" height="60"/><rect x="1588" y="671" width="1" height="9"/></g>
<g fill="#ff0000"><rect x="1593" y="661" width="6" height="53"/><rect x="1595" y="714" width="1" height="30"/></g>
<g fill="#ff0000"><rect x="1602" y="666" width="1" height="38"/><rect x="1600" y="704" width="6" height="22"/><rect x="1602" y="726" width="1" height="11"/></g>
<g fill="#ff0000"><rect x="1609" y="690" width="1" height="24"/><rect x="1607" y="714" width="6" height="16"/><rect x="1609" y="730" width="1" height="13"/></g>
<g fill="#0000ff"><rect x="1617" y="608" width="1" height="53"/><rect x="1614" y="661" width="6" height="1"/><rect x="1614" y="683" width="6" height="1"/><rect x="1614" y="661" width="1" height="23"/><rect x="1619" y="661" width="1" height="23"/><rect x="1617" y="684" width="1" height="16"/></g>
<g fill="#0000ff"><rect x="1624" y="602" width="1" height="13"/><rect x="1622" y="615" width="5" height="1"/><rect x="1622" y="659" width="5" height="1"/><rect x="1622" y="615" width="1" height="45"/><rect x="1626" y="615" width="1" height="45"/><rect x="1624" y="660" width="1" height="18"/></g>
<g fill="#0000ff"><rect x="1630" y="501" width="1" height="29"/><rect x="1628" y="530" width="6" height="1"/><rect x="1628" y="573" width="6" height="1"/><rect x="1628" y="530" width="1" height="44"/><rect x="1633" y="530" width="1" height="44"/><rect x="1630" y="574" width="1" height="6"/></g>
<g fill="#0000ff"><rect x="1638" y="506" width="1" height="4"/><rect x="1635" y="510" width="6" height="1"/><rect x="1635" y="515" width="6" height="1"/><rect x="1635" y="510" width="1" height="6"/><rect x="1640" y="510" width="1" height="6"/><rect x="1638" y="516" width="1" height="22"/></g>
<g fill="#0000ff"><rect x="1645" y="473" width="1" height="33"/><rect x="1642" y="506" width="6" height="1"/><rect x="1642" y="510" width="6" height="1"/><rect x="1642" y="506" width="1" height="5"/><rect x="1647" y="506" width="1" height="5"/><rect x="1645" y="511" width="1" height="26"/></g>
<g fill="#ff0000"><rect x="1652" y="499" width="1" height="10"/><rect x="1650" y="509" width="6" height="14"/><rect x="1652" y="523" width="1" height="11"/></g>
<g fill="#ff0000"><rect x="1659" y="523" width="1" height="15"/><rect x="1656" y="538" width="6" height="9"/><rect x="1659" y="547" width="1" height="14"/></g>
<g fill="#ff0000"><rect x="1663" y="623" width="7" height="103"/><rect x="1666" y="726" width="1" height="68"/></g>
<g fill="#0000ff"><rect x="1673" y="680" width="1" height="24"/><rect x="1670" y="704" width="6" height="1"/><rect x="1670" y="725" width="6" height="1"/><rect x="1670" y="704" width="1" height="22"/><rect x="1675" y="704" width="1" height="22"/><rect x="1673" y="726" width="1" height="16"/></g>
<g fill="#0000ff"><rect x="1680" y="673" width="1" height="10"/><rect x="1678" y="683" width="6" height="7"/><rect x="1680" y="690" width="1" height="17"/></g>
<g fill="#0000ff"><rect x="1688" y="664" width="1" height="9"/><rect x="1685" y="673" width="6" height="1"/><rect x="1685" y="683" width="6" height="1"/><rect x="1685" y="673" width="1" height="11"/><rect x="1690" y="673" width="1" height="11"/><rect x="1688" y="684" width="1" height="36"/></g>
<g fill="#0000ff"><rect x="1694" y="634" width="1" height="3"/><rect x="1691" y="637" width="6" height="1"/><rect x="1691" y="668" width="6" height="1"/><rect x="1691" y="637" width="1" height="32"/><rect x="1696" y="637" width="1" height="32"/><rect x="1694" y="669" width="1" height="2"/></g>
<g fill="#0000ff"><rect x="1701" y="602" width="1" height="9"/><rect x="1698" y="611" width="6" height="1"/><rect x="1698" y="635" width="6" height="1"/><rect x="1698" y="611" width="1" height="25"/><rect x="1703" y="611" width="1" height="25"/><rect x="1701" y="636" width="1" height="16"/></g>
<g fill="#ff0000"><rect x="1709" y="588" width="1" height="21"/><rect x="1706" y="609" width="6" height="7"/><rect x="1709" y="616" width="1" height="19"/></g>
<g fill="#0000ff"><rect x="1716" y="554" width="1" height="2"/><rect x="1714" y="556" width="5" height="1"/><rect x="1714" y="599" width="5" height="1"/><rect x="1714" y="556" width="1" height="44"/><rect x="1718" y="556" width="1" height="44"/></g>
<g fill="#0000ff"><rect x="1722" y="547" width="1" height="9"/><rect x="1719" y="556" width="6" height="1"/><rect x="1719" y="573" width="6" height="1"/><rect x="1719" y="556" width="1" height="18"/><rect x="1724" y="556" width="1" height="18"/><rect x="1722" y="574" width="1" height="16"/></g>
<g fill="#ff0000"><rect x="1730" y="530" width="1" height="3"/><rect x="1727" y="533" width="6" height="100"/><rect x="1730" y="633" width="1" height="57"/></g>
<g fill="#ff0000"><rect x="1737" y="597" width="1" height="43"/><rect x="1734" y="640" width="6" height="9"/><rect x="1737" y="649" width="1" height="17"/></g>
<g fill="#ff0000"><rect x="1742" y="583" width="6" height="119"/><rect x="1744" y="702" width="1" height="19"/></g>
<g fill="#ff0000"><rect x="1750" y="695" width="5" height="29"/><rect x="1752" y="724" width="1" height="2"/></g>
<g fill="#0000ff"><rect x="1758" y="676" width="1" height="4"/><rect x="1755" y="680" width="6" height="1"/><rect x="1755" y="725" width="6" height="1"/><rect x="1755" y="680" width="1" height="46"/><rect x="1760" y="680" width="1" height="46"/></g>
<g fill="#0000ff"><rect x="1765" y="673" width="1" height="7"/><rect x="1762" y="680" width="6" height="1"/><rect x="1762" y="696" width="6" height="1"/><rect x="1762" y="680" width="1" height="17"/><rect x="1767" y="680" width="1" height="17"/><rect x="1765" y="697" width="1" height="26"/></g></g>
<g id="axes" fill="#000"><rect x="1847" y="0" width="1" height="867"/><rect x="1848" y="866" width="5" height="1"/><rect x="1848" y="861" width="2" height="1"/><rect x="1848" y="856" width="2" height="1"/><rect x="1848" y="852" width="2" height="1"/><rect x="1848" y="847" width="2" height="1"/><rect x="1848" y="842" width="5" height="1"/><rect x="1848" y="837" width="2" height="1"/><rect x="1848" y="832" width="2" height="1"/><rect x="1848" y="828" width="2" height="1"/><rect x="1848" y="823" width="2" height="1"/><rect x="1848" y="818" width="5" height="1"/><rect x="1848" y="813" width="2" height="1"/><rect x="1848" y="809" width="2" height="1"/><rect x="1848" y="804" width="2" height="1"/><rect x="1848" y="799" width="2" height="1"/><rect x="1848" y="794" width="5" height="1"/><rect x="1848" y="790" width="2" height="1"/><rect x="1848" y="785" width="2" height="1"/><rect x="1848" y="780" width="2" height="1"/><rect x="1848" y="775" width="2" height="1"/><rect x="1848" y="770" width="5" height="1"/><rect x="1848" y="766" width="2" height="1"/><rect x="1848" y="761" width="2" height="1"/><rect x="1848" y="756" width="2" height="1"/><rect x="1848" y="751" width="2" height="1"/><rect x="1848" y="747" width="5" height="1"/><rect x="1848" y="742" width="2" height="1"/><rect x="1848" y="737" width="2" height="1"/><rect x="1848" y="732" width="2" height="1"/><rect x="1848" y="727" width="2" height="1"/><rect x="1848" y="723" width="5" height="1"/><rect x="1848" y="718" width="2" height="1"/><rect x="1848" y="713" width="2" height="1"/><rect x="1848" y="708" width="2" height="1"/><rect x="1848" y="704" width="2" height="1"/><rect x="1848" y="699" width="5" height="1"/><rect x="1848" y="694" width="2" height="1"/><rect x="1848" y="689" width="2" height="1"/><rect x="1848" y="685" width="2" height="1"/><rect x="1848" y="680" width="2" height="1"/><rect x="1848" y="675" width="5" height="1"/><rect x="1848" y="670" width="2" height="1"/><rect x="1848" y="665" width="2" height="1"/><rect x="1848" y="661" width="2" height="1"/><rect x="1848" y="656" width="2" height="1"/><rect x="1848" y="651" width="5" height="1"/><rect x="1848" y="646" width="2" height="1"/><rect x="1848" y="642" width="2" height="1"/><rect x="1848" y="637" width="2" height="1"/><rect x="1848" y="632" width="2" height="1"/><rect x="1848" y="627" width="5" height="1"/><rect x="1848" y="623" width="2" height="1"/><rect x="1848" y="618" width="2" height="1"/><rect x="1848" y="613" width="2" height="1"/><rect x="1848" y="608" width="2" height="1"/><rect x="1848" y="603" width="5" height="1"/><rect x="1848" y="599" width="2" height="1"/><rect x="1848" y="594" width="2" height="1"/><rect x="1848" y="589" width="2" height="1"/><rect x="1848" y="584" width="2" height="1"/><rect x="1848" y="580" width="5" height="1"/><rect x="1848" y="575" width="2" height="1"/><rect x="1848" y="570" width="2" height="1"/><rect x="1848" y="565" width="2" height="1"/><rect x="1848" y="560" width="2" height="1"/><rect x="1848" y="556" width="5" height="1"/><rect x="1848" y="551" width="2" height="1"/><rect x="1848" y="546" width="2" height="1"/><rect x="1848" y="541" width="2" height="1"/><rect x="1848" y="537" width="2" height="1"/><rect x="1848" y="532" width="5" height="1"/><rect x="1848" y="527" width="2" height="1"/><rect x="1848" y="522" width="2" height="1"/><rect x="1848" y="518" width="2" height="1"/><rect x="1848" y="513" width="2" height="1"/><rect x="1848" y="508" width="5" height="1"/><rect x="1848" y="503" width="2" height="1"/><rect x="1848" y="498" width="2" height="1"/><rect x="1848" y="494" width="2" height="1"/><rect x="1848" y="489" width="2" height="1"/><rect x="1848" y="484" width="5" height="1"/><rect x="1848" y="479" width="2" height="1"/><rect x="1848" y="475" width="2" height="1"/><rect x="1848" y="470" width="2" height="1"/><rect x="1848" y="465" width="2" height="1"/><rect x="1848" y="460" width="5" height="1"/><rect x="1848" y="456" width="2" height="1"/><rect x="1848" y="451" width="2" height="1"/><rect x="1848" y="446" width="2" height="1"/><rect x="1848" y="441" width="2" height="1"/><rect x="1848" y="436" width="5" height="1"/><rect x="1848" y="432" width="2" height="1"/><rect x="1848" y="427" width="2" height="1"/><rect x="1848" y="422" width="2" height="1"/><rect x="1848" y="417" width="2" height="1"/><rect x="1848" y="413" width="5" height="1"/><rect x="1848" y="408" width="2" height="1"/><rect x="1848" y="403" width="2" height="1"/><rect x="1848" y="398" width="2" height="1"/><rect x="1848" y="393" width="2" height="1"/><rect x="1848" y="389" width="5" height="1"/><rect x="1848" y="384" width="2" height="1"/><rect x="1848" y="379" width="2" height="1"/><rect x="1848" y="374" width="2" height="1"/><rect x="1848" y="370" width="2" height="1"/><rect x="1848" y="365" width="5" height="1"/><rect x="1848" y="360" width="2" height="1"/><rect x="1848" y="355" width="2" height="1"/><rect x="1848" y="351" width="2" height="1"/><rect x="1848" y="346" width="2" height="1"/><rect x="1848" y="341" width="5" height="1"/><rect x="1848" y="336" width="2" height="1"/><rect x="1848" y="331" width="2" height="1"/><rect x="1848" y="327" width="2" height="1"/><rect x="1848" y="322" width="2" height="1"/><rect x="1848" y="317" width="5" height="1"/><rect x="1848" y="312" width="2" height="1"/><rect x="1848" y="308" width="2" height="1"/><rect x="1848" y="303" width="2" height="1"/><rect x="1848" y="298" width="2" height="1"/><rect x="1848" y="293" width="5" height="1"/><rect x="1848" y="289" width="2" height="1"/><rect x="1848" y="284" width="2" height="1"/><rect x="1848" y="279" width="2" height="1"/><rect x="1848" y="274" width="2" height="1"/><rect x="1848" y="269" width="5" height="1"/><rect x="1848" y="265" width="2" height="1"/><rect x="1848" y="260" width="2" height="1"/><rect x="1848" y="255" width="2" height="1"/><rect x="1848" y="250" width="2" height="1"/><rect x="1848" y="246" width="5" height="1"/><rect x="1848" y="241" width="2" height="1"/><rect x="1848" y="236" width="2" height="1"/><rect x="1848" y="231" width="2" height="1"/><rect x="1848" y="226" width="2" height="1"/><rect x="1848" y="222" width="5" height="1"/><rect x="1848" y="217" width="2" height="1"/><rect x="1848" y="212" width="2" height="1"/><rect x="1848" y="207" width="2" height="1"/><rect x="1848" y="203" width="2" height="1"/><rect x="1848" y="198" width="5" height="1"/><rect x="1848" y="193" width="2" height="1"/><rect x="1848" y="188" width="2" height="1"/><rect x="1848" y="184" width="2" height="1"/><rect x="1848" y="179" width="2" height="1"/><rect x="1848" y="174" width="5" height="1"/><rect x="1848" y="169" width="2" height="1"/><rect x="1848" y="164" width="2" height="1"/><rect x="1848" y="160" width="2" height="1"/><rect x="1848" y="155" width="2" height="1"/><rect x="1848" y="150" width="5" height="1"/><rect x="1848" y="145" width="2" height="1"/><rect x="1848" y="141" width="2" height="1"/><rect x="1848" y="136" width="2" height="1"/><rect x="1848" y="131" width="2" height="1"/><rect x="1848" y="126" width="5" height="1"/><rect x="1848" y="122" width="2" height="1"/><rect x="1848" y="117" width="2" height="1"/><rect x="1848" y="112" width="2" height="1"/><rect x="1848" y="107" width="2" height="1"/><rect x="1848" y="102" width="5" height="1"/><rect x="1848" y="98" width="2" height="1"/><rect x="1848" y="93" width="2" height="1"/><rect x="1848" y="88" width="2" height="1"/><rect x="1848" y="83" width="2" height="1"/><rect x="1848" y="79" width="5" height="1"/><rect x="1848" y="74" width="2" height="1"/><rect x="1848" y="69" width="2" height="1"/><rect x="1848" y="64" width="2" height="1"/><rect x="1848" y="59" width="2" height="1"/><rect x="1848" y="55" width="5" height="1"/><rect x="1848" y="50" width="2" height="1"/><rect x="1848" y="45" width="2" height="1"/><rect x="1848" y="40" width="2" height="1"/><rect x="1848" y="36" width="2" height="1"/><rect x="1848" y="31" width="5" height="1"/><rect x="1848" y="26" width="2" height="1"/><rect x="1848" y="21" width="2" height="1"/><rect x="1848" y="17" width="2" height="1"/><rect x="1848" y="12" width="2" height="1"/><rect x="1848" y="7" width="5" height="1"/><rect x="1848" y="2" width="2" height="1"/><rect x="0" y="867" width="1847" height="1"/><rect x="0" y="878" width="1847" height="1"/><rect x="25" y="867" width="1" height="12"/><rect x="60" y="867" width="1" height="12"/><rect x="88" y="867" width="1" height="12"/><rect x="124" y="867" width="1" height="12"/><rect x="159" y="867" width="1" height="12"/><rect x="194" y="867" width="1" height="12"/><rect x="229" y="867" width="1" height="12"/><rect x="265" y="867" width="1" height="12"/><rect x="300" y="867" width="1" height="12"/><rect x="336" y="867" width="1" height="12"/><rect x="371" y="867" width="1" height="12"/><rect x="407" y="867" width="1" height="12"/><rect x="442" y="867" width="1" height="12"/><rect x="478" y="867" width="1" height="12"/><rect x="512" y="867" width="1" height="12"/><rect x="541" y="867" width="1" height="12"/><rect x="576" y="867" width="1" height="12"/><rect x="611" y="867" width="1" height="12"/><rect x="647" y="867" width="1" height="12"/><rect x="682" y="867" width="1" height="12"/><rect x="718" y="867" width="1" height="12"/><rect x="753" y="867" width="1" height="12"/><rect x="789" y="867" width="1" height="12"/><rect x="824" y="867" width="1" height="12"/><rect x="860" y="867" width="1" height="12"/><rect x="894" y="867" width="1" height="12"/><rect x="930" y="867" width="1" height="12"/><rect x="965" y="867" width="1" height="12"/><rect x="1001" y="867" width="1" height="12"/><rect x="1036" y="867" width="1" height="12"/><rect x="1072" y="867" width="1" height="12"/><rect x="1107" y="867" width="1" height="12"/><rect x="1128" y="867" width="1" height="12"/><rect x="1156" y="867" width="1" height="12"/><rect x="1192" y="867" width="1" height="12"/><rect x="1227" y="867" width="1" height="12"/><rect x="1263" y="867" width="1" height="12"/><rect x="1298" y="867" width="1" height="12"/><rect x="1334" y="867" width="1" height="12"/><rect x="1369" y="867" width="1" height="12"/><rect x="1404" y="867" width="1" height="12"/><rect x="1439" y="867" width="1" height="12"/><rect x="1475" y="867" width="1" height="12"/><rect x="1510" y="867" width="1" height="12"/><rect x="1546" y="867" width="1" height="12"/><rect x="1581" y="867" width="1" height="12"/><rect x="1617" y="867" width="1" height="12"/><rect x="1652" y="867" width="1" height="12"/><rect x="1680" y="867" width="1" height="12"/><rect x="1709" y="867" width="1" height="12"/><rect x="1744" y="867" width="1" height="12"/><rect x="1772" y="867" width="1" height="12"/><rect x="1808" y="867" width="1" height="12"/><rect x="1843" y="867" width="1" height="12"/><rect x="88" y="867" width="1" height="22"/><rect x="229" y="867" width="1" height="22"/><rect x="392" y="867" width="1" height="22"/><rect x="541" y="867" width="1" height="22"/><rect x="690" y="867" width="1" height="22"/><rect x="852" y="867" width="1" height="22"/><rect x="1001" y="867" width="1" height="22"/><rect x="1143" y="867" width="1" height="22"/><rect x="1298" y="867" width="1" height="22"/><rect x="1439" y="867" width="1" height="22"/><rect x="1588" y="867" width="1" height="22"/><rect x="1730" y="867" width="1" height="22"/></g>
<g id="ylabels" filter="url(#crisp)" fill="#000" font-size="10"><text transform="translate(1880,847) scale(0.87,1)" text-anchor="end">640</text><text transform="translate(1880,823) scale(0.87,1)" text-anchor="end">645</text><text transform="translate(1880,799) scale(0.87,1)" text-anchor="end">650</text><text transform="translate(1880,775) scale(0.87,1)" text-anchor="end">655</text><text transform="translate(1880,752) scale(0.87,1)" text-anchor="end">660</text><text transform="translate(1880,728) scale(0.87,1)" text-anchor="end">665</text><text transform="translate(1880,704) scale(0.87,1)" text-anchor="end">670</text><text transform="translate(1880,680) scale(0.87,1)" text-anchor="end">675</text><text transform="translate(1880,656) scale(0.87,1)" text-anchor="end">680</text><text transform="translate(1880,632) scale(0.87,1)" text-anchor="end">685</text><text transform="translate(1880,608) scale(0.87,1)" text-anchor="end">690</text><text transform="translate(1880,585) scale(0.87,1)" text-anchor="end">695</text><text transform="translate(1880,561) scale(0.87,1)" text-anchor="end">700</text><text transform="translate(1880,537) scale(0.87,1)" text-anchor="end">705</text><text transform="translate(1880,513) scale(0.87,1)" text-anchor="end">710</text><text transform="translate(1880,489) scale(0.87,1)" text-anchor="end">715</text><text transform="translate(1880,465) scale(0.87,1)" text-anchor="end">720</text><text transform="translate(1880,441) scale(0.87,1)" text-anchor="end">725</text><text transform="translate(1880,418) scale(0.87,1)" text-anchor="end">730</text><text transform="translate(1880,394) scale(0.87,1)" text-anchor="end">735</text><text transform="translate(1880,370) scale(0.87,1)" text-anchor="end">740</text><text transform="translate(1880,346) scale(0.87,1)" text-anchor="end">745</text><text transform="translate(1880,322) scale(0.87,1)" text-anchor="end">750</text><text transform="translate(1880,298) scale(0.87,1)" text-anchor="end">755</text><text transform="translate(1880,274) scale(0.87,1)" text-anchor="end">760</text><text transform="translate(1880,251) scale(0.87,1)" text-anchor="end">765</text><text transform="translate(1880,227) scale(0.87,1)" text-anchor="end">770</text><text transform="translate(1880,203) scale(0.87,1)" text-anchor="end">775</text><text transform="translate(1880,179) scale(0.87,1)" text-anchor="end">780</text><text transform="translate(1880,155) scale(0.87,1)" text-anchor="end">785</text><text transform="translate(1880,131) scale(0.87,1)" text-anchor="end">790</text><text transform="translate(1880,107) scale(0.87,1)" text-anchor="end">795</text><text transform="translate(1880,84) scale(0.87,1)" text-anchor="end">800</text><text transform="translate(1880,60) scale(0.87,1)" text-anchor="end">805</text><text transform="translate(1880,36) scale(0.87,1)" text-anchor="end">810</text><text transform="translate(1880,12) scale(0.87,1)" text-anchor="end">815</text></g>
<clipPath id="cx"><rect x="0" y="860" width="1847" height="29"/></clipPath>
<g id="xlabels" filter="url(#crisp)" fill="#000" font-size="10" clip-path="url(#cx)"><text transform="translate(27,876) scale(0.87,1)">20</text><text transform="translate(62,876) scale(0.87,1)">28</text><text transform="translate(90,876) scale(0.87,1)">3</text><text transform="translate(126,876) scale(0.87,1)">10</text><text transform="translate(161,876) scale(0.87,1)">17</text><text transform="translate(196,876) scale(0.87,1)">24</text><text transform="translate(231,876) scale(0.87,1)">1</text><text transform="translate(267,876) scale(0.87,1)">8</text><text transform="translate(302,876) scale(0.87,1)">15</text><text transform="translate(338,876) scale(0.87,1)">22</text><text transform="translate(373,876) scale(0.87,1)">29</text><text transform="translate(409,876) scale(0.87,1)">5</text><text transform="translate(444,876) scale(0.87,1)">12</text><text transform="translate(480,876) scale(0.87,1)">19</text><text transform="translate(514,876) scale(0.87,1)">27</text><text transform="translate(543,876) scale(0.87,1)">2</text><text transform="translate(578,876) scale(0.87,1)">9</text><text transform="translate(613,876) scale(0.87,1)">16</text><text transform="translate(649,876) scale(0.87,1)">23</text><text transform="translate(684,876) scale(0.87,1)">30</text><text transform="translate(720,876) scale(0.87,1)">7</text><text transform="translate(755,876) scale(0.87,1)">14</text><text transform="translate(791,876) scale(0.87,1)">21</text><text transform="translate(826,876) scale(0.87,1)">28</text><text transform="translate(862,876) scale(0.87,1)">4</text><text transform="translate(896,876) scale(0.87,1)">11</text><text transform="translate(932,876) scale(0.87,1)">18</text><text transform="translate(967,876) scale(0.87,1)">25</text><text transform="translate(1003,876) scale(0.87,1)">2</text><text transform="translate(1038,876) scale(0.87,1)">9</text><text transform="translate(1074,876) scale(0.87,1)">16</text><text transform="translate(1109,876) scale(0.87,1)">23</text><text transform="translate(1130,876) scale(0.87,1)">30</text><text transform="translate(1158,876) scale(0.87,1)">6</text><text transform="translate(1194,876) scale(0.87,1)">13</text><text transform="translate(1229,876) scale(0.87,1)">20</text><text transform="translate(1265,876) scale(0.87,1)">27</text><text transform="translate(1300,876) scale(0.87,1)">3</text><text transform="translate(1336,876) scale(0.87,1)">10</text><text transform="translate(1371,876) scale(0.87,1)">17</text><text transform="translate(1406,876) scale(0.87,1)">24</text><text transform="translate(1441,876) scale(0.87,1)">3</text><text transform="translate(1477,876) scale(0.87,1)">10</text><text transform="translate(1512,876) scale(0.87,1)">17</text><text transform="translate(1548,876) scale(0.87,1)">24</text><text transform="translate(1583,876) scale(0.87,1)">31</text><text transform="translate(1619,876) scale(0.87,1)">7</text><text transform="translate(1654,876) scale(0.87,1)">14</text><text transform="translate(1682,876) scale(0.87,1)">22</text><text transform="translate(1711,876) scale(0.87,1)">28</text><text transform="translate(1746,876) scale(0.87,1)">6</text><text transform="translate(1774,876) scale(0.87,1)">12</text><text transform="translate(1810,876) scale(0.87,1)">19</text><text transform="translate(1845,876) scale(0.87,1)">27</text><text transform="translate(90,888) scale(0.87,1)">June</text><text transform="translate(231,888) scale(0.87,1)">July</text><text transform="translate(394,888) scale(0.87,1)">August</text><text transform="translate(543,888) scale(0.87,1)">September</text><text transform="translate(692,888) scale(0.87,1)">October</text><text transform="translate(854,888) scale(0.87,1)">November</text><text transform="translate(1003,888) scale(0.87,1)">December</text><text transform="translate(1145,888) scale(0.87,1)">2014</text><text transform="translate(1300,888) scale(0.87,1)">February</text><text transform="translate(1441,888) scale(0.87,1)">March</text><text transform="translate(1590,888) scale(0.87,1)">April</text><text transform="translate(1732,888) scale(0.87,1)">May</text></g>
<text id="title" filter="url(#crisp)" x="807" y="10" font-size="10" textLength="233.3" lengthAdjust="spacingAndGlyphs" fill="#000">LANCASHIRE (670.500, 675.500, 665.000, 674.000, +0.00)</text>
<rect x="1694" y="529" width="107" height="1" fill="#0000ff"/>
<text filter="url(#crispb)" x="1651.5" y="441" font-size="12" font-weight="bold" fill="#0000ff" textLength="156.5" lengthAdjust="spacingAndGlyphs">Possible 123 low formation?</text>
<text filter="url(#crisp2)" x="1730.5" y="523.8" font-size="11.6" font-family="'DejaVu Sans', sans-serif" text-anchor="middle" fill="#0000ff">❶</text>
<text filter="url(#crisp2)" x="1751.8" y="739.5" font-size="11.6" font-family="'DejaVu Sans', sans-serif" text-anchor="middle" fill="#0000ff">❷</text>
<text filter="url(#crisp2)" x="1793.5" y="514.0" font-size="11.6" font-family="'DejaVu Sans', sans-serif" text-anchor="middle" fill="#0000ff">❸</text>
<text filter="url(#crispb)" x="1807.4" y="514.2" font-size="12" font-weight="bold" text-anchor="middle" fill="#0000ff">?</text>
</svg>
</body></html>
